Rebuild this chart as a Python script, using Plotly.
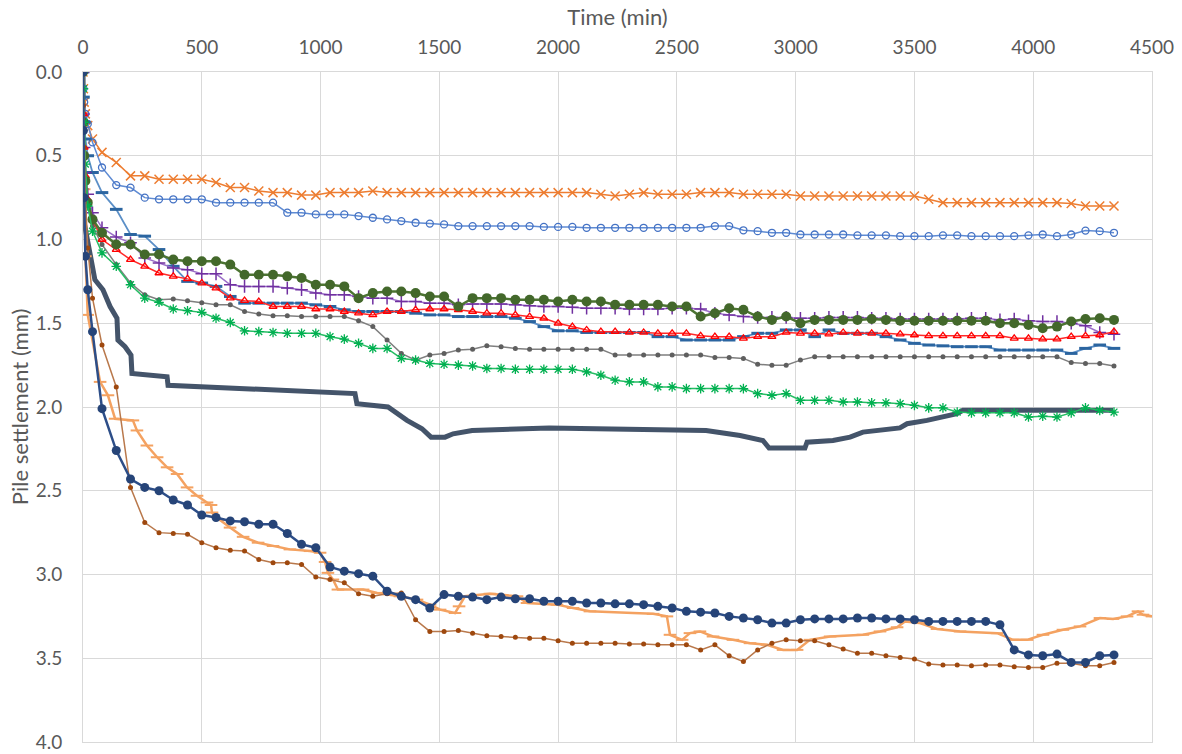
import plotly.graph_objects as go

# ---------------- data ----------------
T_EARLY = [0, 2, 5, 10, 20, 40]
T_HOURLY = [80, 140, 200, 260, 320, 380, 440, 500, 560, 620, 680, 740,
            800, 860, 920, 980, 1040, 1100, 1160, 1220, 1280, 1340, 1400, 1460,
            1520, 1580, 1640, 1700, 1760, 1820, 1880, 1940, 2000, 2060, 2120, 2180,
            2240, 2300, 2360, 2420, 2480, 2540, 2600, 2660, 2720, 2780, 2840, 2900,
            2960, 3020, 3080, 3140, 3200, 3260, 3320, 3380, 3440, 3500, 3560, 3620,
            3680, 3740, 3800, 3860, 3920, 3980, 4040, 4100, 4160, 4220, 4280, 4340]

orange_x = [0, 0.10, 0.18, 0.25, 0.32, 0.40,
            0.48, 0.54, 0.62, 0.62, 0.64, 0.64, 0.64, 0.64, 0.66, 0.69, 0.69, 0.71,
            0.72, 0.72, 0.735, 0.735, 0.72, 0.72, 0.72, 0.71, 0.72, 0.72, 0.72, 0.72,
            0.72, 0.72, 0.72, 0.72, 0.72, 0.72, 0.72, 0.72, 0.72, 0.72, 0.72, 0.73,
            0.74, 0.73, 0.72, 0.73, 0.73, 0.73, 0.72, 0.72, 0.72, 0.73, 0.73, 0.73,
            0.73, 0.74, 0.74, 0.74, 0.74, 0.74, 0.74, 0.74, 0.74, 0.74, 0.76, 0.78,
            0.78, 0.78, 0.78, 0.78, 0.78, 0.78, 0.78, 0.78, 0.785, 0.80, 0.80, 0.80]

blue_circle = [0, 0.10, 0.18, 0.25, 0.31, 0.42,
               0.57, 0.675, 0.69, 0.75, 0.76, 0.76, 0.76, 0.76, 0.78, 0.78, 0.78, 0.78,
               0.78, 0.84, 0.84, 0.85, 0.85, 0.85, 0.86, 0.87, 0.88, 0.89, 0.90, 0.905,
               0.91, 0.92, 0.92, 0.92, 0.92, 0.92, 0.92, 0.925, 0.925, 0.925, 0.93, 0.93,
               0.93, 0.93, 0.93, 0.93, 0.93, 0.93, 0.93, 0.92, 0.92, 0.945, 0.95, 0.96,
               0.96, 0.97, 0.97, 0.97, 0.97, 0.975, 0.975, 0.975, 0.98, 0.98, 0.98, 0.975,
               0.975, 0.98, 0.98, 0.98, 0.98, 0.975, 0.97, 0.98, 0.97, 0.947, 0.95, 0.96]

blue_dash = [0, 0.15, 0.30, 0.40, 0.50, 0.60,
             0.72, 0.82, 0.97, 0.98, 1.06, 1.16, 1.25, 1.26, 1.28, 1.34, 1.38, 1.38,
             1.38, 1.38, 1.38, 1.39, 1.40, 1.42, 1.43, 1.43, 1.43, 1.43, 1.44, 1.45,
             1.45, 1.46, 1.46, 1.46, 1.46, 1.47, 1.49, 1.52, 1.545, 1.545, 1.555, 1.555,
             1.555, 1.555, 1.555, 1.58, 1.58, 1.60, 1.60, 1.60, 1.60, 1.58, 1.56, 1.56,
             1.54, 1.54, 1.58, 1.54, 1.56, 1.56, 1.56, 1.58, 1.60, 1.62, 1.63, 1.635,
             1.64, 1.64, 1.64, 1.66, 1.66, 1.66, 1.66, 1.66, 1.68, 1.65, 1.63, 1.65]

green_circle = [0, 0.30, 0.50, 0.65, 0.78, 0.88,
                0.96, 1.03, 1.03, 1.09, 1.09, 1.12, 1.13, 1.13, 1.13, 1.15, 1.21, 1.21,
                1.21, 1.22, 1.23, 1.27, 1.27, 1.28, 1.35, 1.32, 1.31, 1.31, 1.32, 1.34,
                1.34, 1.40, 1.35, 1.35, 1.35, 1.36, 1.36, 1.36, 1.37, 1.36, 1.37, 1.37,
                1.39, 1.39, 1.39, 1.39, 1.40, 1.40, 1.46, 1.44, 1.41, 1.42, 1.46, 1.48,
                1.46, 1.50, 1.48, 1.48, 1.48, 1.48, 1.475, 1.48, 1.485, 1.485, 1.485, 1.485,
                1.485, 1.485, 1.485, 1.50, 1.50, 1.51, 1.53, 1.52, 1.49, 1.475, 1.47, 1.48]

purple_plus = [0, 0.25, 0.45, 0.60, 0.73, 0.84,
               0.93, 0.985, 1.02, 1.11, 1.14, 1.17, 1.18, 1.205, 1.205, 1.27, 1.28, 1.28,
               1.28, 1.29, 1.30, 1.32, 1.33, 1.33, 1.34, 1.35, 1.35, 1.37, 1.37, 1.38,
               1.38, 1.39, 1.385, 1.385, 1.385, 1.39, 1.395, 1.40, 1.40, 1.405, 1.41, 1.41,
               1.41, 1.415, 1.415, 1.415, 1.41, 1.41, 1.415, 1.44, 1.45, 1.46, 1.465, 1.465,
               1.465, 1.47, 1.47, 1.465, 1.465, 1.465, 1.47, 1.47, 1.475, 1.475, 1.475, 1.475,
               1.475, 1.47, 1.47, 1.48, 1.475, 1.485, 1.49, 1.49, 1.50, 1.515, 1.555, 1.565]

red_triangle = [0, 0.25, 0.45, 0.62, 0.76, 0.88,
                1.00, 1.06, 1.12, 1.16, 1.20, 1.22, 1.235, 1.26, 1.29, 1.35, 1.365, 1.37,
                1.40, 1.40, 1.40, 1.415, 1.415, 1.43, 1.44, 1.45, 1.43, 1.43, 1.42, 1.415,
                1.415, 1.42, 1.43, 1.44, 1.44, 1.45, 1.46, 1.47, 1.50, 1.52, 1.54, 1.55,
                1.55, 1.555, 1.555, 1.56, 1.56, 1.56, 1.575, 1.58, 1.58, 1.59, 1.58, 1.58,
                1.555, 1.56, 1.56, 1.565, 1.555, 1.56, 1.56, 1.56, 1.565, 1.57, 1.575, 1.575,
                1.575, 1.575, 1.575, 1.575, 1.59, 1.59, 1.595, 1.595, 1.58, 1.575, 1.57, 1.55]

gray_dot = [0, 0.25, 0.45, 0.62, 0.78, 0.92,
            1.03, 1.15, 1.26, 1.33, 1.36, 1.355, 1.365, 1.377, 1.39, 1.39, 1.43, 1.445,
            1.455, 1.455, 1.46, 1.46, 1.46, 1.46, 1.485, 1.52, 1.60, 1.68, 1.72, 1.69,
            1.68, 1.66, 1.655, 1.635, 1.64, 1.65, 1.655, 1.655, 1.655, 1.655, 1.655, 1.655,
            1.69, 1.69, 1.69, 1.69, 1.69, 1.69, 1.69, 1.705, 1.705, 1.71, 1.745, 1.75,
            1.75, 1.72, 1.70, 1.70, 1.70, 1.70, 1.70, 1.70, 1.70, 1.70, 1.70, 1.70,
            1.70, 1.70, 1.70, 1.70, 1.70, 1.70, 1.70, 1.70, 1.735, 1.74, 1.74, 1.755]

green_star = [0, 0.10, 0.30, 0.55, 0.80, 0.95,
              1.08, 1.16, 1.27, 1.35, 1.375, 1.415, 1.425, 1.435, 1.47, 1.495, 1.545, 1.55,
              1.555, 1.56, 1.56, 1.56, 1.58, 1.595, 1.62, 1.65, 1.65, 1.71, 1.72, 1.74,
              1.745, 1.75, 1.755, 1.77, 1.77, 1.775, 1.775, 1.775, 1.775, 1.775, 1.79, 1.81,
              1.84, 1.85, 1.85, 1.88, 1.88, 1.89, 1.89, 1.89, 1.89, 1.89, 1.92, 1.93,
              1.92, 1.96, 1.96, 1.96, 1.97, 1.97, 1.975, 1.975, 1.98, 1.99, 2.005, 2.005,
              2.03, 2.035, 2.035, 2.035, 2.035, 2.06, 2.055, 2.06, 2.035, 2.005, 2.02, 2.03]

navy_circle = [0, 0.35, 0.75, 1.10, 1.30, 1.55,
               2.01, 2.26, 2.43, 2.48, 2.50, 2.555, 2.585, 2.645, 2.66, 2.68, 2.685, 2.70,
               2.70, 2.755, 2.82, 2.84, 2.955, 2.98, 2.995, 3.01, 3.10, 3.13, 3.15, 3.20,
               3.12, 3.13, 3.135, 3.15, 3.135, 3.145, 3.145, 3.16, 3.16, 3.16, 3.17, 3.17,
               3.175, 3.175, 3.18, 3.19, 3.20, 3.22, 3.225, 3.23, 3.25, 3.26, 3.27, 3.29,
               3.29, 3.27, 3.265, 3.265, 3.265, 3.26, 3.26, 3.265, 3.265, 3.27, 3.28, 3.28,
               3.28, 3.28, 3.28, 3.30, 3.45, 3.48, 3.485, 3.475, 3.525, 3.525, 3.485, 3.48]

brown_dot = [0, 0.20, 0.45, 0.75, 1.05, 1.35,
             1.63, 1.88, 2.48, 2.69, 2.75, 2.755, 2.76, 2.81, 2.84, 2.855, 2.86, 2.91,
             2.93, 2.93, 2.94, 3.015, 3.03, 3.05, 3.115, 3.13, 3.115, 3.11, 3.27, 3.34,
             3.34, 3.335, 3.35, 3.365, 3.37, 3.375, 3.38, 3.38, 3.395, 3.41, 3.41, 3.41,
             3.41, 3.415, 3.415, 3.42, 3.42, 3.42, 3.45, 3.42, 3.485, 3.52, 3.45, 3.41,
             3.39, 3.395, 3.395, 3.42, 3.445, 3.47, 3.47, 3.485, 3.495, 3.505, 3.535, 3.54,
             3.54, 3.545, 3.54, 3.54, 3.55, 3.555, 3.555, 3.53, 3.53, 3.545, 3.545, 3.525]

# densely logged series (read as breakpoints)
slate_t = [0, 2, 5, 29, 50, 84, 114, 143, 147, 177, 202, 206, 354, 358, 703, 1040, 1145,
           1153, 1284, 1364, 1427, 1465, 1524, 1558, 1638, 1962, 2623, 2766, 2862, 2888,
           3039, 3048, 3157, 3229, 3283, 3439, 3469, 3553, 3679, 3704, 4336]
slate_v = [0, 0.5, 0.9, 1.08, 1.24, 1.30, 1.40, 1.47, 1.60, 1.64, 1.69, 1.80, 1.82, 1.87,
           1.89, 1.91, 1.92, 1.98, 2.00, 2.08, 2.13, 2.18, 2.18, 2.16, 2.14, 2.125, 2.14,
           2.17, 2.20, 2.245, 2.245, 2.21, 2.20, 2.18, 2.15, 2.125, 2.10, 2.08, 2.04, 2.02, 2.02]

lorange_t = [0, 2, 5, 10, 20, 72, 105, 135, 210, 227, 269, 312, 354, 396, 438, 480, 522,
             539, 543, 577, 619, 674, 737, 800, 871, 956, 998, 1019, 1031, 1052, 1073, 1179,
             1238, 1334, 1406, 1461, 1503, 1566, 1583, 1608, 1713, 1827, 1869, 1995, 2063,
             2134, 2315, 2400, 2458, 2471, 2522, 2555, 2597, 2652, 2736, 2808, 2879, 2947,
             3006, 3060, 3145, 3283, 3355, 3427, 3460, 3523, 3595, 3692, 3848, 3915, 3974,
             4041, 4125, 4197, 4281, 4336, 4395, 4441, 4462, 4500]
lorange_v = [0, 0.30, 0.70, 1.10, 1.45, 1.85, 1.93, 2.07, 2.08, 2.14, 2.23, 2.30, 2.36,
             2.40, 2.48, 2.53, 2.57, 2.585, 2.63, 2.675, 2.72, 2.775, 2.81, 2.83, 2.85, 2.86,
             2.87, 2.925, 2.99, 3.03, 3.09, 3.09, 3.11, 3.13, 3.15, 3.18, 3.21, 3.23, 3.19,
             3.13, 3.115, 3.13, 3.17, 3.18, 3.20, 3.22, 3.23, 3.235, 3.25, 3.36, 3.39, 3.35,
             3.34, 3.37, 3.39, 3.41, 3.42, 3.45, 3.45, 3.39, 3.37, 3.36, 3.34, 3.315, 3.28,
             3.29, 3.325, 3.34, 3.35, 3.39, 3.39, 3.36, 3.33, 3.31, 3.26, 3.265, 3.25, 3.22,
             3.24, 3.25]

X_TICKS = [0, 500, 1000, 1500, 2000, 2500, 3000, 3500, 4000, 4500]
Y_TICKS = [0.0, 0.5, 1.0, 1.5, 2.0, 2.5, 3.0, 3.5, 4.0]

T_ALL = T_EARLY + T_HOURLY

fig = go.Figure()

# dense series first (underneath)
fig.add_trace(go.Scatter(x=slate_t, y=slate_v, mode="lines",
                         line=dict(color="#44546A", width=5)))
fig.add_trace(go.Scatter(x=lorange_t, y=lorange_v, mode="lines+markers",
                         line=dict(color="#F4A261", width=2.5),
                         marker=dict(symbol="line-ew", size=9,
                                     line=dict(color="#F4A261", width=2))))

def add(y, color, lcolor, symbol, size, lw=1.5, mlw=1.5):
    mk = dict(symbol=symbol, size=size, color=color,
              line=dict(color=color, width=mlw))
    fig.add_trace(go.Scatter(x=T_ALL, y=y, mode="lines+markers",
                             line=dict(color=lcolor, width=lw), marker=mk))

add(orange_x, "#ED7D31", "#ED7D31", "x-thin", 9, lw=1.5, mlw=1.5)
add(blue_circle, "#4472C4", "#5F8BD3", "circle-open", 7, lw=1.5, mlw=1.3)
add(blue_dash, "#2B65A0", "#5B8FC7", "line-ew", 9, lw=1.8, mlw=3)
add(gray_dot, "#5F5F5F", "#7F7F7F", "circle", 5, lw=1.5, mlw=0)
add(purple_plus, "#7030A0", "#9B6FC8", "cross-thin", 9, lw=1.5, mlw=1.5)
add(red_triangle, "#FF0000", "#FF2A2A", "triangle-up-open", 7, lw=1.5, mlw=1.3)
add(green_circle, "#43682B", "#4C7432", "circle", 10, lw=2.5, mlw=0)
add(green_star, "#00B050", "#27BD64", "asterisk-open", 8, lw=1.5, mlw=1.3)
add(brown_dot, "#9E480E", "#B9784B", "circle", 5, lw=1.5, mlw=0)
add(navy_circle, "#264478", "#2D4E88", "circle", 9, lw=2.5, mlw=0)

font_family = "Lato, Open Sans, sans-serif"
fig.update_layout(
    width=1182, height=754,
    margin=dict(l=83, r=30, t=72, b=12),
    paper_bgcolor="white", plot_bgcolor="white",
    showlegend=False,
    font=dict(family=font_family, color="#595959"),
)
fig.update_xaxes(
    side="top", range=[0, 4500], tickvals=X_TICKS,
    ticktext=[str(v) for v in X_TICKS],
    showgrid=True, gridcolor="#D9D9D9", gridwidth=1, zeroline=False,
    showline=True, mirror=True, linecolor="#D9D9D9", linewidth=1,
    ticks="", ticklabelstandoff=9,
    tickfont=dict(size=19, color="#595959", family=font_family),
    title=dict(text="Time (min)", font=dict(size=22, color="#595959", family=font_family),
               standoff=3),
    automargin=False,
)
fig.update_yaxes(
    range=[4.0, 0.0], tickvals=Y_TICKS, ticktext=[f"{v:.1f}" for v in Y_TICKS],
    showgrid=True, gridcolor="#D9D9D9", gridwidth=1, zeroline=False,
    showline=True, mirror=True, linecolor="#D9D9D9", linewidth=1,
    ticks="", ticklabelstandoff=16,
    tickfont=dict(size=19, color="#595959", family=font_family),
    title=dict(text="Pile settlement (mm)", font=dict(size=22, color="#595959", family=font_family),
               standoff=0),
    automargin=False,
)

fig.write_html(
    "out.html",
    config={"displayModeBar": False},
    post_script="document.body.style.margin='0';document.body.style.overflow='hidden';",
)
